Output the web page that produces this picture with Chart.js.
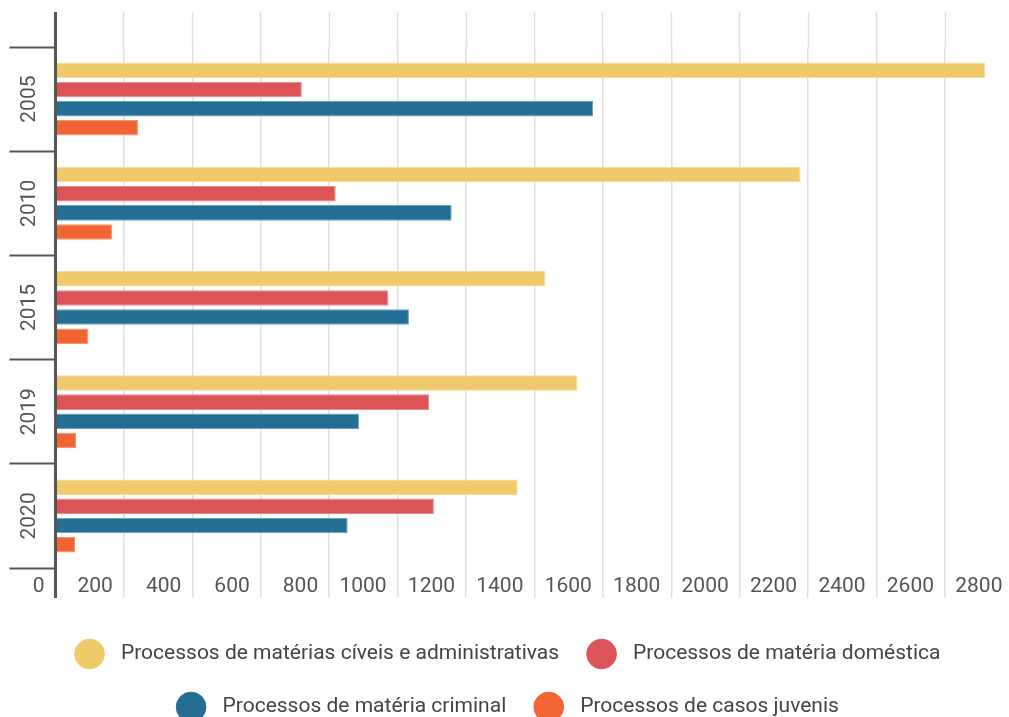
<!DOCTYPE html>
<html lang="pt">
<head>
<meta charset="utf-8">
<title>Processos por ano</title>
<script src="https://cdn.jsdelivr.net/npm/chart.js@4.4.1/dist/chart.umd.min.js"></script>
<style>
  html, body { margin: 0; padding: 0; background: #fff; }
  #wrap { width: 1009px; height: 717px; }
</style>
</head>
<body>
<div id="wrap"><canvas id="chart" width="1009" height="717"></canvas></div>
<script>
// Data
const years = ['2005', '2010', '2015', '2019', '2020'];
const civeis = [2717, 2178, 1432, 1526, 1351];
const domestica = [720, 819, 973, 1092, 1106];
const criminal = [1571, 1158, 1033, 887, 854];
const juvenis = [241, 166, 96, 60, 57];
const seriesNames = [
    'Processos de matérias cíveis e administrativas',
    'Processos de matéria doméstica',
    'Processos de matéria criminal',
    'Processos de casos juvenis'
];
const xTicks = [0, 200, 400, 600, 800, 1000, 1200, 1400, 1600, 1800, 2000, 2200, 2400, 2600, 2800];

const colors = ['#efc96a', '#dd5458', '#246e94', '#f26533'];
const edges = ['#f5dc9c', '#ea8a8d', '#6c9fbb', '#f6946f'];
const axisDark = '#555';
const gridLight = '#e0e0e0';

function setTicks(scale) {
    scale.ticks = xTicks.map(v => ({ value: v }));
}
function gridColor(ctx) {
    return ctx.tick && ctx.tick.value === 0 ? axisDark : gridLight;
}
function gridWidth(ctx) {
    return ctx.tick && ctx.tick.value === 0 ? 3 : 1.5;
}

const datasets = [civeis, domestica, criminal, juvenis].map((vals, i) => ({
    label: seriesNames[i],
    data: vals,
    backgroundColor: colors[i],
    borderColor: edges[i],
    borderWidth: 1,
    categoryPercentage: 0.736,
    barPercentage: 0.81
}));

// default legend items, with a little extra room between dot and text
function legendLabels(chart) {
    const items = Chart.defaults.plugins.legend.labels.generateLabels(chart);
    items.forEach(item => {
        item.text = '  ' + item.text;
        item.strokeStyle = item.fillStyle;
    });
    return items;
}

const ctx = document.getElementById('chart').getContext('2d');
new Chart(ctx, {
    type: 'bar',
    data: { labels: years, datasets: datasets },
    options: {
        indexAxis: 'y',
        responsive: false,
        animation: false,
        layout: { padding: { top: 12, left: 10.5, right: 0, bottom: -10.5 } },
        font: { family: 'Roboto' },
        plugins: {
            tooltip: { enabled: false },
            legend: {
                position: 'bottom',
                labels: {
                    usePointStyle: true,
                    pointStyle: 'circle',
                    padding: 32,
                    color: '#444',
                    font: { family: 'Roboto', size: 21 },
                    generateLabels: legendLabels
                }
            }
        },
        scales: {
            x: {
                type: 'linear',
                position: 'bottom',
                min: 0,
                max: 2787,
                bounds: 'data',
                afterBuildTicks: setTicks,
                afterFit: s => { s.height = 43.5; },
                border: { display: false },
                grid: {
                    color: gridColor,
                    lineWidth: gridWidth,
                    tickLength: 30,
                    tickColor: gridColor,
                    tickWidth: gridWidth
                },
                ticks: {
                    autoSkip: false,
                    align: 'end',
                    labelOffset: -11,
                    padding: -24,
                    color: axisDark,
                    font: { family: 'Roboto', size: 21 },
                    callback: v => String(v)
                }
            },
            x2: {
                type: 'linear',
                position: 'top',
                min: 0,
                max: 2787,
                bounds: 'data',
                afterBuildTicks: setTicks,
                border: { display: false },
                grid: {
                    drawOnChartArea: false,
                    tickLength: 35,
                    tickColor: gridColor,
                    tickWidth: gridWidth
                },
                ticks: { display: false }
            },
            y: {
                type: 'category',
                afterFit: s => { s.width = 45; },
                border: { display: true, color: axisDark, width: 3 },
                grid: {
                    offset: true,
                    drawOnChartArea: false,
                    tickLength: 46,
                    tickColor: axisDark,
                    tickWidth: 2
                },
                ticks: {
                    minRotation: 90,
                    maxRotation: 90,
                    crossAlign: 'center',
                    padding: -44,
                    color: axisDark,
                    font: { family: 'Roboto', size: 21 }
                }
            }
        }
    }
});
</script>
</body>
</html>
